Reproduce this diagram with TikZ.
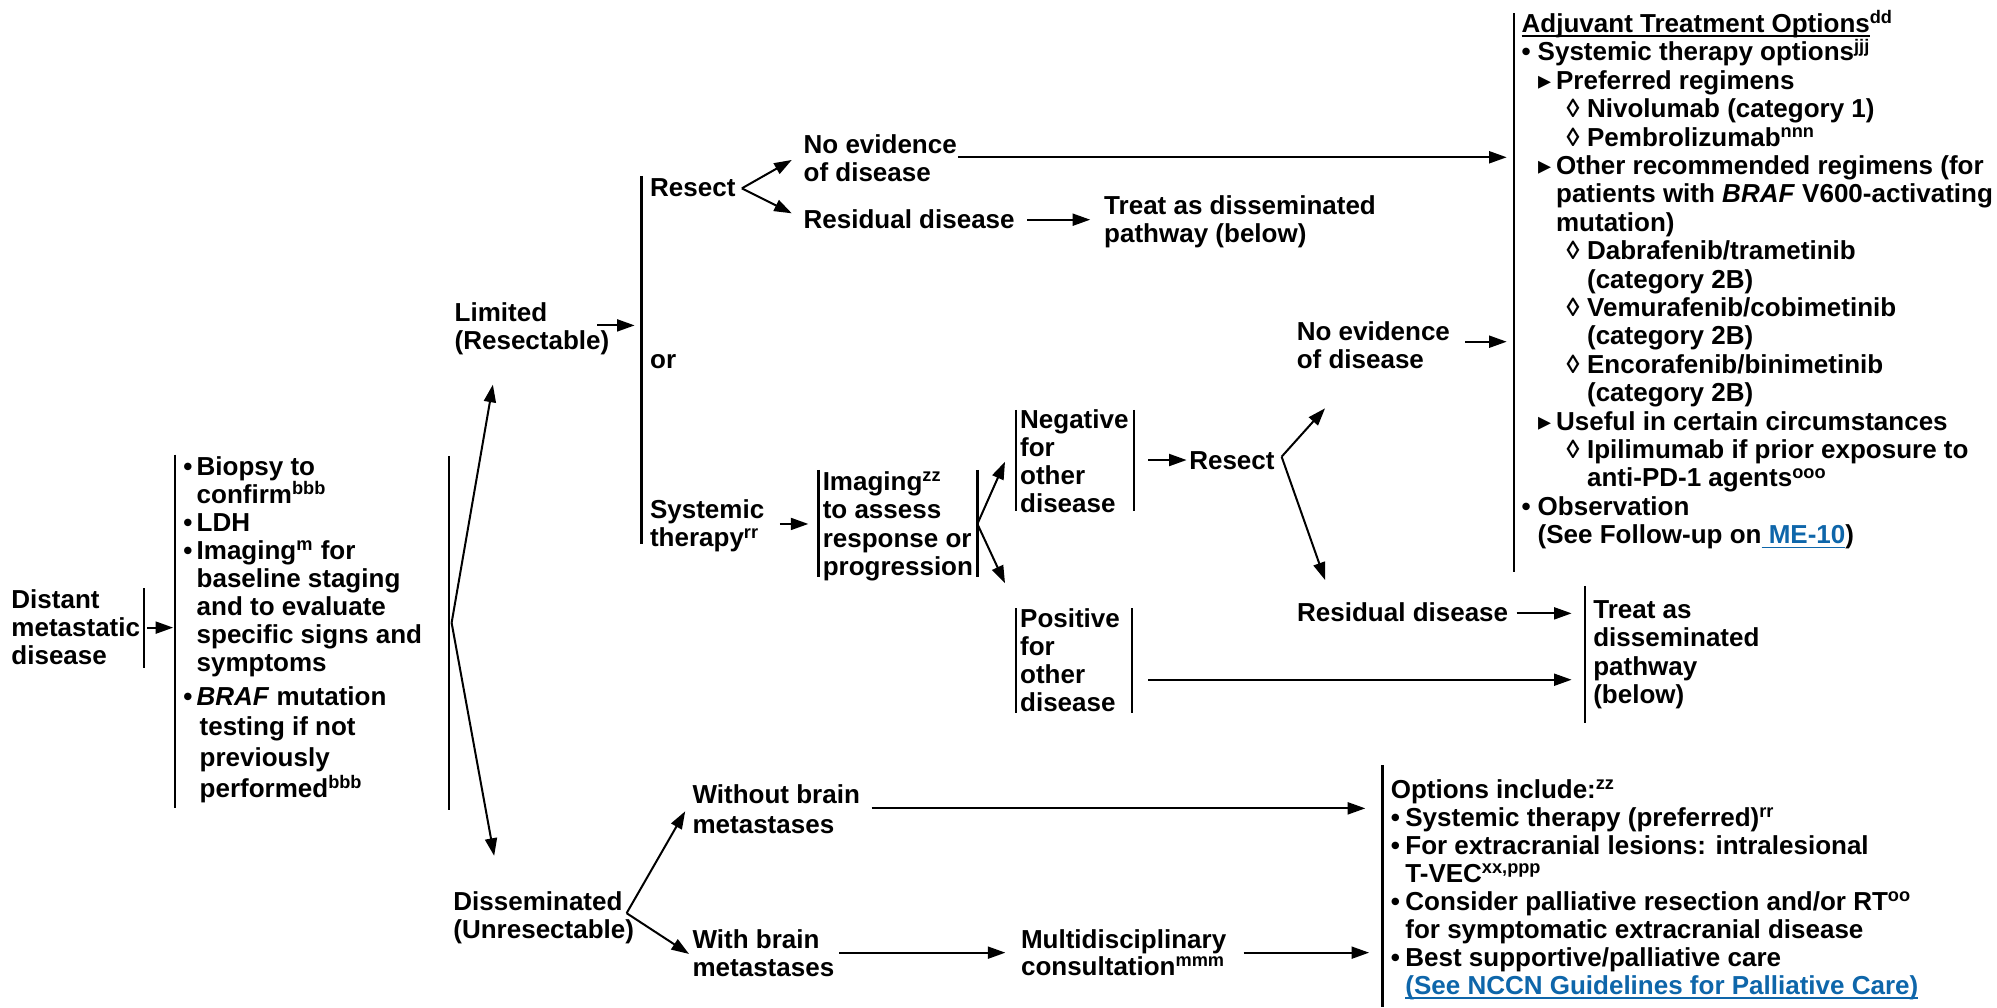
\documentclass[tikz,border=0pt]{standalone}
\usepackage{fontspec}
\setmainfont{Liberation Sans}
\newfontfamily\symf{DejaVu Sans}
\usetikzlibrary{arrows.meta}
\definecolor{linkblue}{RGB}{14,102,170}
\newcommand\fst{\rule{0pt}{12.5pt}}
\newcommand\ssp[1]{\textsuperscript{#1}}
\newcommand\uln[1]{\leavevmode\setbox0\hbox{#1}\rlap{\rule[-2.2pt]{\wd0}{0.8pt}}\box0}
\newcommand\tri{{\symf\fontsize{13}{13}\selectfont ▸}}
\newcommand\Lb{\makebox[6.7pt][l]{•}}
\newcommand\La{\hspace*{6.7pt}}
\newcommand\Ib{\makebox[8pt][l]{•}}
\newcommand\Ia{\hspace*{8pt}}
\newcommand\IIb{\hspace*{8.2pt}\makebox[9pt][l]{\tri}}
\newcommand\IIa{\hspace*{17.2pt}}
\newcommand\IIIb{\hspace*{22.4pt}\makebox[10.3pt][l]{◊}}
\newcommand\IIIa{\hspace*{32.7pt}}
\newcommand\Ob{\makebox[7.3pt][l]{•}}
\newcommand\Oa{\hspace*{7.3pt}}
\begin{document}
\begin{tikzpicture}[x=0.6368pt,y=-0.6368pt,
  T/.style={anchor=north west, inner sep=0pt, outer sep=0pt, align=left, yshift=8.2pt,
            font=\fontsize{13}{#1}\selectfont\bfseries},
  T/.default=14,
  bar/.style={line width=1.15pt},
  con/.style={line width=1pt},
  arr/.style={con,-{Triangle[length=8.8pt,width=6pt]}}]
\fill[white] (0,0) rectangle (1568,791);
\useasboundingbox (0,0) rectangle (1568,791);

% ---------- text nodes ----------
\node[T] (dist) at (9,471) {\fst Distant\\metastatic\\disease};
\node[T] (work1) at (143.9,366.4) {\fst\Lb Biopsy to\\\La confirm\ssp{bbb}\\\Lb LDH\\\Lb Imaging\ssp{m} for\\\La baseline staging\\\La and to evaluate\\\La specific signs and\\\La symptoms};
\node[T=15.3] (work2) at (143.9,547) {\fst\Lb\textit{BRAF} mutation\\\La\hspace*{1.5pt}testing if not\\\La\hspace*{1.5pt}previously\\\La\hspace*{1.5pt}performed\ssp{bbb}};
\node[T] (lim) at (357,245.5) {\fst Limited\\(Resectable)};
\node[T] (res1) at (510.5,147.9) {\fst Resect};
\node[T] (or) at (510.5,282.7) {\fst or};
\node[T=14.2] (sys) at (510.4,400.4) {\fst Systemic\\therapy\ssp{rr}};
\node[T] (ned1) at (631,113.9) {\fst No evidence\\of disease};
\node[T] (rd1) at (631,172.7) {\fst Residual disease};
\node[T] (tr1) at (867,161.5) {\fst Treat as disseminated\\pathway (below)};
\node[T=14.2] (img) at (646,378.2) {\fst Imaging\ssp{zz}\\to assess\\response or\\progression};
\node[T=13.9] (neg) at (801,329.8) {\fst Negative\\for\\other\\disease};
\node[T=13.9] (pos) at (801,486.3) {\fst Positive\\for\\other\\disease};
\node[T] (res2) at (933.8,362) {\fst Resect};
\node[T=14.2] (ned2) at (1018.2,260.4) {\fst No evidence\\of disease};
\node[T] (rd2) at (1018.5,481.6) {\fst Residual disease};
\node[T=14.15] (tr2) at (1251,479) {\fst Treat as\\disseminated\\pathway\\(below)};
\node[T=14.2] (adj) at (1194.8,18.8) {\fst\uln{Adjuvant Treatment Options}\ssp{dd}\\
\Ib Systemic therapy options\ssp{jjj}\\
\IIb Preferred regimens\\
\IIIb Nivolumab (category 1)\\
\IIIb Pembrolizumab\ssp{nnn}\\
\IIb Other recommended regimens (for\\
\IIa patients with \textit{BRAF} V600-activating\\
\IIa mutation)\\
\IIIb Dabrafenib/trametinib\\
\IIIa (category 2B)\\
\IIIb Vemurafenib/cobimetinib\\
\IIIa (category 2B)\\
\IIIb Encorafenib/binimetinib\\
\IIIa (category 2B)\\
\IIb Useful in certain circumstances\\
\IIIb Ipilimumab if prior exposure to\\
\IIIa anti-PD-1 agents\ssp{ooo}\\
\Ib Observation\\
\Ia (See Follow-up on\textcolor{linkblue}{\uln{\ ME-10}})};
\node[T] (dis) at (356,708) {\fst Disseminated\\(Unresectable)};
\node[T=14.8] (wo) at (543.8,624.2) {\fst Without brain\\metastases};
\node[T] (wi) at (543.8,738) {\fst With brain\\metastases};
\node[T=13.4] (mul) at (801.7,738) {\fst Multidisciplinary\\consultation\ssp{mmm}};
\node[T] (opt) at (1092,620.3) {\fst Options include:\ssp{zz}\\
\Ob Systemic therapy (preferred)\ssp{rr}\\
\Ob For extracranial lesions: intralesional\\
\Oa T-VEC\ssp{xx,ppp}\\
\Ob Consider palliative resection and/or RT\ssp{oo}\\
\Oa for symptomatic extracranial disease\\
\Ob Best supportive/palliative care\\
\Oa\textcolor{linkblue}{\uln{(See NCCN Guidelines for Palliative Care)}}};

% ---------- brackets ----------
\draw[bar] (113,462) -- (113,524.5);
\draw[bar] (137.4,357) -- (137.4,634.5);
\draw[bar] (352.8,358) -- (352.8,636);
\draw[bar] (503.8,138) -- (503.8,427);
\draw[bar] (642.6,369) -- (642.6,453);
\draw[bar] (767.4,369) -- (767.4,453);
\draw[bar] (797.7,321.9) -- (797.7,401.5);
\draw[bar] (890.4,321.9) -- (890.4,401.5);
\draw[bar] (797.7,477.6) -- (797.7,560);
\draw[bar] (888.6,477.6) -- (888.6,560);
\draw[bar] (1244.5,460) -- (1244.5,567.4);
\draw[bar] (1188.5,10.5) -- (1188.5,449);
\draw[bar] (1085.5,601) -- (1085.5,791);

% ---------- connector end points ----------
\coordinate (a1s) at (115.5,492.8);  \coordinate (a1e) at (136,492.8);
\coordinate (br3) at (354.6,489);    \coordinate (limtip) at (387,302);  \coordinate (distip) at (388,672);
\coordinate (lims) at (468.8,255.5); \coordinate (lime) at (498.3,255.5);
\coordinate (rs1) at (582.5,147.9);  \coordinate (rs1u) at (621.7,125.6); \coordinate (rs1d) at (621.7,167.5);
\coordinate (ned1s) at (752,123.5);  \coordinate (ned1e) at (1183,123.5);
\coordinate (rd1s) at (806.5,172.5); \coordinate (rd1e) at (856,172.5);
\coordinate (syss) at (612.4,411.4); \coordinate (syse) at (634.7,411.4);
\coordinate (imgb) at (767.4,411.4); \coordinate (imgu) at (789.1,362.5); \coordinate (imgd) at (789.1,458);
\coordinate (negs) at (901.6,361.2); \coordinate (nege) at (931.7,361.2);
\coordinate (rs2) at (1006.3,358.6); \coordinate (rs2u) at (1040.4,320.6); \coordinate (rs2d) at (1040.4,455.4);
\coordinate (ned2s) at (1150.3,268.3); \coordinate (ned2e) at (1183,268.3);
\coordinate (rd2s) at (1190.8,481.6); \coordinate (rd2e) at (1234,481.6);
\coordinate (poss) at (901.5,533.7); \coordinate (pose) at (1234,533.7);
\coordinate (disb) at (492,717);     \coordinate (disu) at (538,637);  \coordinate (disd) at (541,749);
\coordinate (wos) at (684.4,634.7);  \coordinate (woe) at (1072,634.7);
\coordinate (wis) at (658.8,748);    \coordinate (wie) at (789.4,748);
\coordinate (muls) at (976.5,748);   \coordinate (mule) at (1075,748);

% ---------- connectors ----------
\draw[arr] (a1s) -- (a1e);
\draw[arr] (br3) -- (limtip);
\draw[arr] (br3) -- (distip);
\draw[arr] (lims) -- (lime);
\draw[arr] (rs1) -- (rs1u);
\draw[arr] (rs1) -- (rs1d);
\draw[arr] (ned1s) -- (ned1e);
\draw[arr] (rd1s) -- (rd1e);
\draw[arr] (syss) -- (syse);
\draw[arr] (imgb) -- (imgu);
\draw[arr] (imgb) -- (imgd);
\draw[arr] (negs) -- (nege);
\draw[arr] (rs2) -- (rs2u);
\draw[arr] (rs2) -- (rs2d);
\draw[arr] (ned2s) -- (ned2e);
\draw[arr] (rd2s) -- (rd2e);
\draw[arr] (poss) -- (pose);
\draw[arr] (disb) -- (disu);
\draw[arr] (disb) -- (disd);
\draw[arr] (wos) -- (woe);
\draw[arr] (wis) -- (wie);
\draw[arr] (muls) -- (mule);
\end{tikzpicture}
\end{document}
